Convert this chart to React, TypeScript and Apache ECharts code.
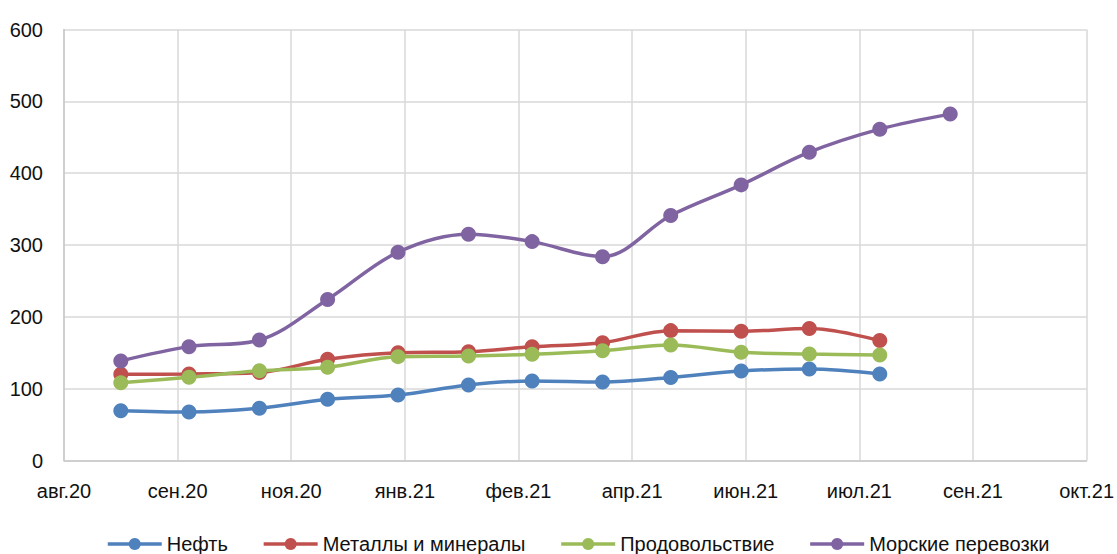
import React, { useEffect, useRef } from "react";
import * as echarts from "echarts";

const dates = [
  "2020-09-01", "2020-10-01", "2020-11-01", "2020-12-01", "2021-01-01", "2021-02-01",
  "2021-03-01", "2021-04-01", "2021-05-01", "2021-06-01", "2021-07-01", "2021-08-01", "2021-09-01",
];
const oil = [69.4, 67.5, 72.7, 85.2, 91.2, 105.2, 110.7, 109.3, 115.6, 124.7, 127.4, 120.5];
const metals = [120, 120.5, 122.5, 141, 150.1, 151.5, 158.5, 164, 180.8, 180, 183.6, 166.9];
const food = [108.4, 115.9, 125, 129.8, 144.6, 145.5, 147.9, 152.9, 160.9, 150.7, 148.3, 146.9];
const shipping = [138.6, 158.5, 167.8, 224.2, 290, 315, 304.7, 283.8, 341, 383.7, 429.2, 461.3, 482.2];
const seriesNames = ["Нефть", "Металлы и минералы", "Продовольствие", "Морские перевозки"];
const monthNames = ["янв", "фев", "мар", "апр", "май", "июн", "июл", "авг", "сен", "окт", "ноя", "дек"];

// Excel-style serial day numbers
const toSerial = (s: string) => {
  const [y, m, d] = s.split("-").map(Number);
  return Date.UTC(y, m - 1, d) / 86400000 + 25569;
};
const fmtSerial = (v: number) => {
  const dt = new Date((v - 25569) * 86400000);
  return monthNames[dt.getUTCMonth()] + "." + String(dt.getUTCFullYear() % 100).padStart(2, "0");
};

const colors = ["#4F81BD", "#C0504D", "#9BBB59", "#8064A2"];
const font = "'Liberation Sans', Arial, sans-serif";

export default function App() {
  const ref = useRef<HTMLDivElement>(null);
  useEffect(() => {
    if (!ref.current) return;
    const chart = echarts.init(ref.current, undefined, { renderer: "svg" });
    const values = [oil, metals, food, shipping];
    chart.setOption({
      animation: false,
      color: colors,
      textStyle: { fontFamily: font },
      grid: { left: 64, right: 28, top: 29.5, bottom: 93.5, containLabel: false },
      xAxis: {
        type: "value",
        min: 44050,
        max: 44500,
        interval: 50,
        axisLine: { show: true, onZero: false, lineStyle: { color: "#c9c9c9", width: 1.5 } },
        axisTick: { show: false },
        splitLine: { show: true, lineStyle: { color: "#d9d9d9", width: 1.5 } },
        axisLabel: {
          formatter: (v: number) => fmtSerial(v),
          fontSize: 20,
          color: "#111",
          fontFamily: font,
          margin: 20,
          showMinLabel: true,
          showMaxLabel: true,
        },
      },
      yAxis: {
        type: "value",
        min: 0,
        max: 600,
        interval: 100,
        axisLine: { show: true, lineStyle: { color: "#c9c9c9", width: 1.5 } },
        axisTick: { show: false },
        splitLine: { show: true, lineStyle: { color: "#d9d9d9", width: 1.5 } },
        axisLabel: { fontSize: 20, color: "#111", fontFamily: font, margin: 21 },
      },
      legend: {
        left: 101,
        top: 529,
        itemWidth: 54,
        itemHeight: 15,
        itemGap: 34,
        lineStyle: { width: 3.5 },
        textStyle: { fontSize: 20, color: "#111", fontFamily: font },
        data: seriesNames,
      },
      series: values.map((vals, i) => ({
        name: seriesNames[i],
        type: "line",
        smooth: 0.35,
        symbol: "circle",
        symbolSize: 15,
        lineStyle: { width: 3.5, color: colors[i] },
        itemStyle: { color: colors[i] },
        data: vals.map((v, j) => [toSerial(dates[j]), v]),
      })),
    });
    return () => chart.dispose();
  }, []);
  return <div ref={ref} style={{ width: 1117, height: 554, position: "absolute", left: 0, top: 0 }} />;
}
